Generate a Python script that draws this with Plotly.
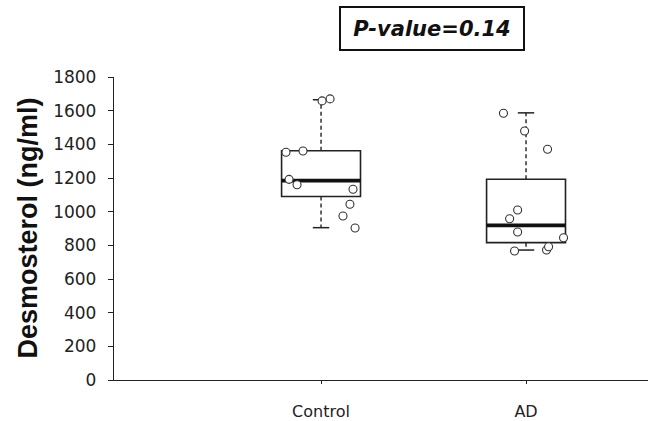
import plotly.graph_objects as go

categories = ["Control", "AD"]
q1 = [1090, 816]
median = [1185, 918]
q3 = [1362, 1193]
lower_whisker = [905, 772]
upper_whisker = [1665, 1587]

control_values = [1670, 1658, 1353, 1360, 1192, 1160, 1133, 1044, 974, 903]
control_jitter = [0.044, 0.005, -0.171, -0.088, -0.156, -0.117, 0.156, 0.141, 0.107, 0.166]
ad_values = [1585, 1479, 1371, 1010, 958, 879, 845, 766, 772, 792]
ad_jitter = [-0.110, -0.007, 0.105, -0.041, -0.080, -0.041, 0.183, -0.056, 0.100, 0.110]

y_ticks = [0, 200, 400, 600, 800, 1000, 1200, 1400, 1600, 1800]
p_label = "P-value=0.14"
y_title = "Desmosterol (ng/ml)"

INK = "#222222"
BOX_W = 0.385
CAP_HALF = 0.04

fig = go.Figure()

# box bodies
fig.add_trace(go.Box(
    x=[0, 1], q1=q1, median=median, q3=q3,
    lowerfence=q1, upperfence=q3,
    width=BOX_W, line=dict(color=INK, width=1.6),
    fillcolor="rgba(255,255,255,0)", boxpoints=False,
    whiskerwidth=0, showlegend=False, hoverinfo="skip",
))

# dashed whiskers
wx, wy = [], []
cx, cy = [], []
for i in range(len(categories)):
    wx += [i, i, None, i, i, None]
    wy += [q3[i], upper_whisker[i], None, q1[i], lower_whisker[i], None]
    cx += [i - CAP_HALF, i + CAP_HALF, None, i - CAP_HALF, i + CAP_HALF, None]
    cy += [upper_whisker[i], upper_whisker[i], None, lower_whisker[i], lower_whisker[i], None]
fig.add_trace(go.Scatter(x=wx, y=wy, mode="lines",
                         line=dict(color=INK, width=1.4, dash="4px,3px"),
                         showlegend=False, hoverinfo="skip"))
fig.add_trace(go.Scatter(x=cx, y=cy, mode="lines",
                         line=dict(color=INK, width=1.5),
                         showlegend=False, hoverinfo="skip"))

# thick medians
mx, my = [], []
for i in range(len(categories)):
    mx += [i - BOX_W / 2, i + BOX_W / 2, None]
    my += [median[i], median[i], None]
fig.add_trace(go.Scatter(x=mx, y=my, mode="lines",
                         line=dict(color="#111111", width=3.8),
                         showlegend=False, hoverinfo="skip"))

# points
px = [0 + j for j in control_jitter] + [1 + j for j in ad_jitter]
py = control_values + ad_values
fig.add_trace(go.Scatter(x=px, y=py, mode="markers",
                         marker=dict(symbol="circle", size=8, color="white",
                                     line=dict(color="#333333", width=1.1)),
                         showlegend=False, hoverinfo="skip"))

fig.update_layout(
    width=648, height=421,
    margin=dict(l=114, r=0, t=77, b=41),
    plot_bgcolor="white", paper_bgcolor="white",
    showlegend=False,
    xaxis=dict(range=[-1.01, 1.595], tickvals=[0, 1], ticktext=categories,
               showline=True, linecolor=INK, linewidth=1.3,
               ticks="outside", ticklen=3, tickcolor=INK, showgrid=False,
               zeroline=False, ticklabelstandoff=14,
               tickfont=dict(family="DejaVu Sans", size=16, color=INK)),
    yaxis=dict(range=[0, 1800], tickvals=y_ticks,
               showline=True, linecolor=INK, linewidth=1.3,
               ticks="outside", ticklen=5, tickcolor=INK, showgrid=False,
               zeroline=False, ticklabelstandoff=8,
               tickfont=dict(family="DejaVu Sans", size=17, color=INK)),
    annotations=[
        dict(text="<b><i>" + p_label + "</i></b>", xref="paper", yref="paper",
             x=(431.5 - 114) / 534, y=(380 - 28.5) / 303,
             xanchor="center", yanchor="middle", showarrow=False,
             font=dict(family="DejaVu Sans", size=21, color="#111111"),
             bordercolor="#111111", borderwidth=2, borderpad=5,
             width=172, height=31, bgcolor="white"),
        dict(text="<b>" + y_title + "</b>", xref="paper", yref="paper",
             x=(27 - 114) / 534, y=(380 - 228.5) / 303, textangle=-90,
             xanchor="center", yanchor="middle", showarrow=False,
             font=dict(family="Liberation Sans", size=27, color="#111111")),
    ],
)

fig.write_html("out.html")
